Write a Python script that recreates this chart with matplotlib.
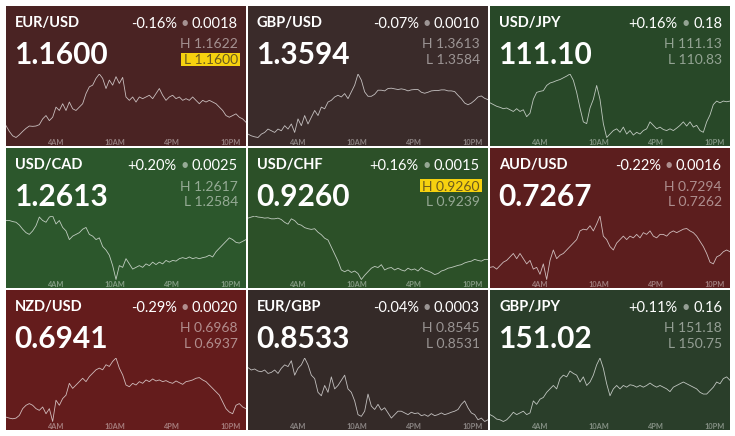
import numpy as np
import matplotlib
matplotlib.use('agg')
import matplotlib.pyplot as plt
from matplotlib.patches import Rectangle

plt.rcParams['font.family'] = ['Lato', 'DejaVu Sans']

# --- data (levels = relative height of the intraday line) ---
pairs = ['EUR/USD', 'GBP/USD', 'USD/JPY',
         'USD/CAD', 'USD/CHF', 'AUD/USD',
         'NZD/USD', 'EUR/GBP', 'GBP/JPY']
prices = ['1.1600', '1.3594', '111.10',
          '1.2613', '0.9260', '0.7267',
          '0.6941', '0.8533', '151.02']
pct_change = ['-0.16%', '-0.07%', '+0.16%',
              '+0.20%', '+0.16%', '-0.22%',
              '-0.29%', '-0.04%', '+0.11%']
abs_change = ['0.0018', '0.0010', '0.18',
              '0.0025', '0.0015', '0.0016',
              '0.0020', '0.0003', '0.16']
highs = ['1.1622', '1.3613', '111.13',
         '1.2617', '0.9260', '0.7294',
         '0.6968', '0.8545', '151.18']
lows = ['1.1600', '1.3584', '110.83',
        '1.2584', '0.9239', '0.7262',
        '0.6937', '0.8531', '150.75']
# which of H / L is hit by the current price (drawn highlighted)
highlight = ['L', None, None, None, 'H', None, None, None, None]
bg_colors = ['#4a2323', '#3a2b2a', '#284828',
             '#2c572c', '#2c5028', '#5c1e1e',
             '#641c1c', '#342a28', '#2a3e2a']

eurusd = [35, 18, 5, 0, 8, 18, 27, 34, 33, 34, 38,
          55, 65, 50, 60, 90, 80, 100, 80, 105, 85, 80, 90, 100, 130, 150, 155, 175, 188, 175,
          145, 170, 155, 180, 160, 178, 120, 110, 120, 105, 120, 115, 120, 125, 115, 130, 145,
          125, 110, 120, 125, 115, 120, 110, 115, 110, 120, 110, 100, 110, 105, 110, 105, 100,
          90, 80, 65, 60, 65, 70, 60, 55, 45]
gbpusd = [10, 5, 2, 0, 10, 15, 25, 20, 15, 25, 20, 35, 25, 40, 15, 55, 35, 65, 40, 60, 80, 65,
          90, 85, 105, 110, 120, 125, 120, 130, 115, 135, 155, 188, 170,
          135, 122, 122, 128, 140, 140, 138, 145, 146, 144, 142, 144, 142, 138, 141, 142, 142,
          134, 131, 134, 138, 139, 139, 141, 141, 138, 138, 136, 125, 115, 102, 97, 102, 110,
          120, 123, 116, 112]
usdjpy = [105, 100, 95, 92, 88, 90, 85, 80, 88, 80, 85, 65, 75, 115, 135, 138, 140, 155, 162,
          165, 169, 172, 177, 182, 188, 170, 135, 90, 50, 45, 90, 115, 155, 115, 45, 5, 15, 25,
          30, 20, 35, 15, 25, 12, 20, 15, 25, 30, 50, 40, 30, 35, 28, 25, 30, 25, 32, 40, 50,
          38, 50, 35, 40, 25, 20, 50, 70, 100, 110, 105, 110, 108, 110]
usdcad = [170, 170, 167, 165, 157, 145, 135, 130, 140, 155, 180, 170, 165, 180, 183, 160, 170,
          150, 140, 115, 125, 130, 135, 145, 150, 130, 125, 115, 120, 95, 85, 70, 40, 0, 40, 35,
          60, 45, 30, 35, 40, 35, 45, 40, 50, 43, 50, 45, 55, 50, 55, 53, 60, 63, 60, 65, 60,
          63, 60, 63, 65, 70, 65, 80, 90, 100, 110, 120, 115, 107, 105, 110, 115]
usdchf = [177, 180, 183, 180, 179, 177, 178, 175, 175, 177, 173, 165, 160, 175, 170, 160, 157,
          150, 147, 145, 147, 137, 130, 120, 115, 95, 75, 55, 30, 25, 30, 23, 27, 20, 3, 15, 25,
          35, 40, 37, 45, 30, 35, 37, 30, 35, 30, 27, 35, 30, 33, 27, 37, 30, 27, 23, 17, 20,
          27, 30, 35, 37, 40, 43, 45, 50, 53, 55, 60, 57, 55, 60, 60]
audusd = [35, 37, 30, 40, 50, 55, 65, 75, 60, 75, 60, 45, 55, 30, 35, 15, 45, 0, 55, 85, 60,
          70, 75, 85, 95, 105, 115, 140, 145, 143, 155, 140, 160, 183, 125, 115, 95, 85, 105,
          115, 125, 115, 125, 120, 130, 120, 135, 130, 140, 125, 120, 130, 130, 125, 135, 140,
          135, 140, 145, 147, 140, 135, 125, 110, 95, 75, 50, 45, 65, 70, 80, 85, 80]
nzdusd = [15, 12, 10, 12, 20, 40, 50, 55, 50, 40, 35, 45, 25, 40, 2, 65, 50, 70, 80, 115, 100,
          110, 120, 130, 120, 135, 145, 155, 160, 155, 170, 165, 180, 190, 160, 140, 110, 105,
          115, 110, 120, 115, 125, 120, 128, 122, 125, 120, 123, 118, 115, 122, 117, 112, 120,
          122, 125, 130, 132, 125, 120, 110, 100, 90, 80, 60, 40, 30, 25, 50, 55, 45, 40]
eurgbp = [162, 155, 158, 152, 150, 155, 145, 148, 155, 145, 160, 170, 165, 182, 140, 160, 170,
          190, 170, 140, 130, 90, 80, 110, 90, 135, 100, 110, 125, 140, 100, 90, 65, 25, 20, 35,
          85, 50, 40, 55, 38, 45, 30, 15, 25, 35, 35, 30, 25, 32, 28, 30, 22, 25, 20, 28, 22,
          25, 30, 25, 28, 32, 35, 40, 55, 65, 45, 30, 25, 10, 15, 5, 10]
gbpjpy = [25, 20, 12, 10, 5, 10, 20, 32, 25, 30, 35, 25, 30, 65, 55, 70, 75, 90, 100, 110, 100,
          130, 140, 135, 152, 145, 140, 120, 135, 110, 120, 140, 170, 190, 160, 115, 80, 100,
          110, 100, 110, 105, 112, 110, 105, 110, 105, 110, 117, 110, 105, 110, 105, 100, 92,
          105, 110, 115, 120, 115, 110, 105, 100, 90, 85, 85, 95, 105, 120, 115, 130, 135, 125]
series = [eurusd, gbpusd, usdjpy, usdcad, usdchf, audusd, nzdusd, eurgbp, gbpjpy]

tick_hours = [4, 10, 16, 22]
tick_labels = ['4AM', '10AM', '4PM', '10PM']
t_start, t_end = -1.25, 23.65

# --- layout in pixels ---
W, H = 735, 436
col_x = [6, 248, 490]
row_y = [6, 148, 290]
pw, ph = 240, 140

fig = plt.figure(figsize=(W / 100, H / 100), dpi=100)
fig.set_facecolor('white')
renderer = fig.canvas.get_renderer()

white = '#ffffff'
dim = (1, 1, 1, 0.5)
small = 10.5
hl_size = 10

for i, pair in enumerate(pairs):
    x0 = col_x[i % 3]
    y0 = row_y[i // 3]

    ax = fig.add_axes([x0 / W, 1 - (y0 + ph) / H, pw / W, ph / H])
    ax.set_facecolor(bg_colors[i])
    ax.set_xlim(0, pw)
    ax.set_ylim(ph, 0)
    ax.set_xticks([])
    ax.set_yticks([])
    for s in ax.spines.values():
        s.set_visible(False)

    ax.text(9, 21.5, pair, color=white, fontsize=10.5, fontweight='bold', va='baseline')
    ax.text(8, 58, prices[i], color=white, fontsize=21.5, fontweight='bold', va='baseline')

    # "+0.16% • 0.18" built right to left
    t_abs = ax.text(232, 21.5, abs_change[i], color=white, fontsize=small, ha='right',
                    va='baseline')
    t_dot = ax.annotate('\u2022', xy=(0, 0), xycoords=t_abs, xytext=(-2.5, 0),
                        textcoords='offset points', ha='right', va='bottom',
                        color=dim, fontsize=small)
    ax.annotate(pct_change[i], xy=(0, 0), xycoords=t_dot, xytext=(-2.5, 0),
                textcoords='offset points', ha='right', va='bottom',
                color=white, fontsize=small)

    for label, val, yb in [('H', highs[i], 42.5), ('L', lows[i], 58)]:
        if highlight[i] == label:
            t = ax.text(232, yb, label + ' ' + val, color='#6b5a1e', fontsize=hl_size,
                        ha='right', va='baseline', zorder=3)
            bb = t.get_window_extent(renderer)
            left = ax.transData.inverted().transform((bb.x0, bb.y0))[0]
            ax.add_patch(Rectangle((left - 2.5, yb - 11.3), 234 - left + 2.5, 13.3,
                                   fc='#f6d10f', ec='none', zorder=2))
        else:
            ax.text(232, yb, label + ' ' + val, color=dim, fontsize=hl_size, ha='right',
                    va='baseline')

    # intraday line
    lx = fig.add_axes([x0 / W, 1 - (y0 + 131.5) / H, pw / W, 63.5 / H])
    lx.set_facecolor('none')
    vals = np.array(series[i], dtype=float)
    hours = np.linspace(t_start, t_end, len(vals))
    lx.plot(hours, vals, color=(1, 1, 1, 0.7), lw=0.6)
    lx.set_xlim(t_start, t_end)
    lx.set_ylim(vals.min(), vals.max())
    lx.set_yticks([])
    lx.set_xticks(tick_hours)
    lx.set_xticklabels(tick_labels, fontweight='bold')
    lx.tick_params(axis='x', length=0, pad=1.2, labelsize=5.3, labelcolor=(1, 1, 1, 0.42))
    for s in lx.spines.values():
        s.set_visible(False)

plt.savefig('out.png', dpi=100)
